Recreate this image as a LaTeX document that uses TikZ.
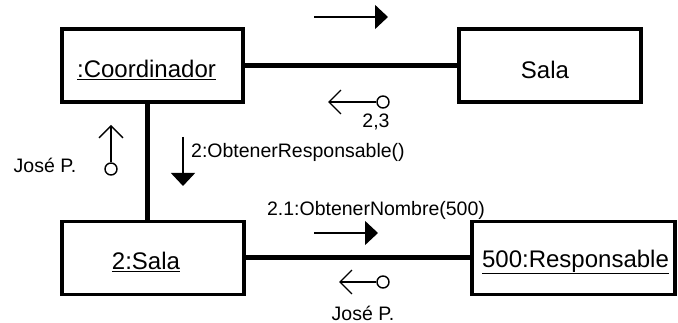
\documentclass[tikz,border=0pt]{standalone}
\usepackage{fontspec}
\setmainfont{Liberation Sans}
\usetikzlibrary{arrows.meta}
\begin{document}
\begin{tikzpicture}[x=1pt,y=-1pt,
  objbox/.style={draw, line width=3.5pt, minimum width=#1, minimum height=73pt, inner sep=0pt},
  bigtxt/.style={font=\fontsize{24}{28}\selectfont, inner sep=0pt, yshift=-4pt},
  link/.style={line width=5pt},
  msg/.style={line width=1.4pt, -{Triangle[length=13pt,width=24pt]}},
  ret/.style={line width=1.4pt, {Straight Barb[length=12pt,width=24pt,line width=1.4pt]}-},
  tail/.style={circle, draw, line width=1.4pt, fill=white, minimum size=12pt, inner sep=0pt},
  lbl/.style={font=\fontsize{19.5}{22}\selectfont, inner sep=0pt},
]
\useasboundingbox (0,0) rectangle (678,323);

% objects
\node[objbox=181pt, label={[bigtxt, xshift=-6pt]center:\underline{:Coordinador}}] (coord) at (152.5,65.5) {};
\node[objbox=182pt, label={[bigtxt, xshift=-5pt]center:Sala}] (sala) at (550,65.5) {};
\node[objbox=182pt, label={[bigtxt, xshift=-7pt]center:\underline{2:Sala}}] (sala2) at (153,258) {};
\node[objbox=203pt, label={[bigtxt, xshift=2pt]center:\underline{500:Responsable}}] (resp) at (573.5,258) {};

% links
\draw[link] (coord.east) -- (sala.west);
\draw[link] ([xshift=-5.5pt]coord.south) -- ([xshift=-6pt]sala2.north);
\draw[link] (sala2.east) -- (resp.west);

% message to Sala
\coordinate (m1s) at (314,17);
\coordinate (m1e) at (388,17);
\draw[msg] (m1s) -- (m1e);

% return 2,3
\coordinate (r1t) at (328,102);
\node[tail] (r1o) at (383,102) {};
\draw[ret] (r1t) -- (r1o);
\node[lbl] (l23) at (376,122) {2,3};

% return José P. (up)
\coordinate (r2t) at (111,125);
\node[tail] (r2o) at (111,169) {};
\draw[ret] (r2t) -- (r2o);
\node[lbl] (ljp1) at (45,165) {José P.};

% message 2
\coordinate (m2s) at (183,137);
\coordinate (m2e) at (183,186);
\draw[msg] (m2s) -- (m2e);
\node[lbl, anchor=west] (l2) at (191,152) {2:ObtenerResponsable()};

% message 2.1
\coordinate (m3s) at (314,233);
\coordinate (m3e) at (378,233);
\draw[msg] (m3s) -- (m3e);
\node[lbl] (l21) at (376,210) {2.1:ObtenerNombre(500)};

% return José P. (lower)
\coordinate (r3t) at (339,282);
\node[tail] (r3o) at (383,282) {};
\draw[ret] (r3t) -- (r3o);
\node[lbl] (ljp2) at (363,313) {José P.};
\end{tikzpicture}
\end{document}
